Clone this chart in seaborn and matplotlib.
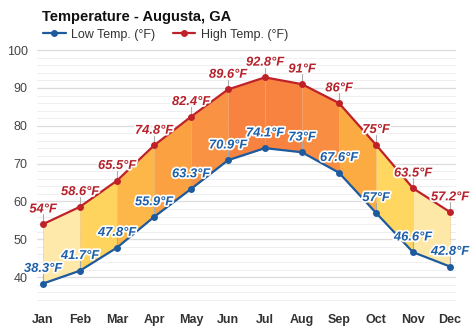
import matplotlib
matplotlib.use("Agg")
import matplotlib.pyplot as plt
import matplotlib.patheffects as pe
import seaborn as sns
import pandas as pd
import numpy as np

months = ["Jan", "Feb", "Mar", "Apr", "May", "Jun", "Jul", "Aug", "Sep", "Oct", "Nov", "Dec"]
low_temp = [38.3, 41.7, 47.8, 55.9, 63.3, 70.9, 74.1, 73.0, 67.6, 57.0, 46.6, 42.8]
high_temp = [54.0, 58.6, 65.5, 74.8, 82.4, 89.6, 92.8, 91.0, 86.0, 75.0, 63.5, 57.2]
low_labels = ["38.3°F", "41.7°F", "47.8°F", "55.9°F", "63.3°F", "70.9°F", "74.1°F", "73°F", "67.6°F", "57°F", "46.6°F", "42.8°F"]
high_labels = ["54°F", "58.6°F", "65.5°F", "74.8°F", "82.4°F", "89.6°F", "92.8°F", "91°F", "86°F", "75°F", "63.5°F", "57.2°F"]
segment_colors = ["#fee9aa", "#fed45e", "#fdb748", "#fba142", "#f99242", "#f88240",
                  "#f88240", "#f98d41", "#fcaa42", "#fed660", "#fee8a8"]

sns.set_style("white")
plt.rcParams['font.family'] = ['Liberation Sans', 'DejaVu Sans']

fig, ax = plt.subplots(figsize=(4.74, 3.31), dpi=100)
fig.subplots_adjust(left=0.079, right=0.961, top=0.860, bottom=0.077)

x = np.arange(len(months))
df = pd.DataFrame({"x": np.concatenate([x, x]),
                   "temp": low_temp + high_temp,
                   "series": ["Low Temp. (°F)"] * 12 + ["High Temp. (°F)"] * 12})

# grid
for v in np.arange(32, 101, 2):
    major = (v % 10 == 0)
    ax.axhline(v, color="#dcdcdc" if major else "#efefef", lw=0.9 if major else 0.7, zorder=0)

# fills
for i in range(len(months) - 1):
    ax.fill_between(x[i:i + 2], low_temp[i:i + 2], high_temp[i:i + 2],
                    color=segment_colors[i], lw=0, zorder=1)
for i in range(len(months)):
    ax.plot([x[i], x[i]], [low_temp[i], high_temp[i]], color="#e0a050", lw=0.6, alpha=0.35, zorder=1.5)

palette = {"Low Temp. (°F)": "#1d5a9e", "High Temp. (°F)": "#bf2128"}
sns.lineplot(data=df, x="x", y="temp", hue="series", palette=palette,
             hue_order=["Low Temp. (°F)", "High Temp. (°F)"],
             marker="o", markersize=5, markeredgewidth=0, lw=1.6, ax=ax, zorder=3)

halo = [pe.withStroke(linewidth=2.5, foreground="white")]
for i in range(len(months)):
    for vals, labs, col in ((low_temp, low_labels, "#1d5fa8"), (high_temp, high_labels, "#b5222b")):
        ax.plot([x[i], x[i]], [vals[i], vals[i] + 2.6], color="#aaaaaa", lw=0.8, zorder=2)
        ax.text(x[i], vals[i] + 2.3, labs[i], ha="center", va="bottom", fontsize=9.3,
                fontweight="bold", fontstyle="italic", color=col, path_effects=halo, zorder=4)

ax.set_xlim(-0.15, 11.15)
ax.set_ylim(32.5, 101)
ax.set_xticks(x)
ax.set_xticklabels(months, fontsize=9, fontweight="bold", color="#333333")
ax.set_yticks([40, 50, 60, 70, 80, 90, 100])
ax.tick_params(axis="y", labelsize=9, labelcolor="#444444", length=0, pad=7)
ax.tick_params(axis="x", length=0, pad=6)
ax.set_xlabel("")
ax.set_ylabel("")
for s in ax.spines.values():
    s.set_visible(False)

leg = ax.legend(loc="lower left", bbox_to_anchor=(0.0, 1.0), ncol=2, frameon=False,
                fontsize=9, handlelength=1.8, columnspacing=1.4, borderaxespad=0.05, handletextpad=0.45)
for t in leg.get_texts():
    t.set_color("#333333")

fig.text(0.089, 0.948, "Temperature - Augusta, GA", fontsize=10.5, fontweight="bold", color="#111111", va="center")

fig.savefig("out.png", dpi=100, facecolor="white")
